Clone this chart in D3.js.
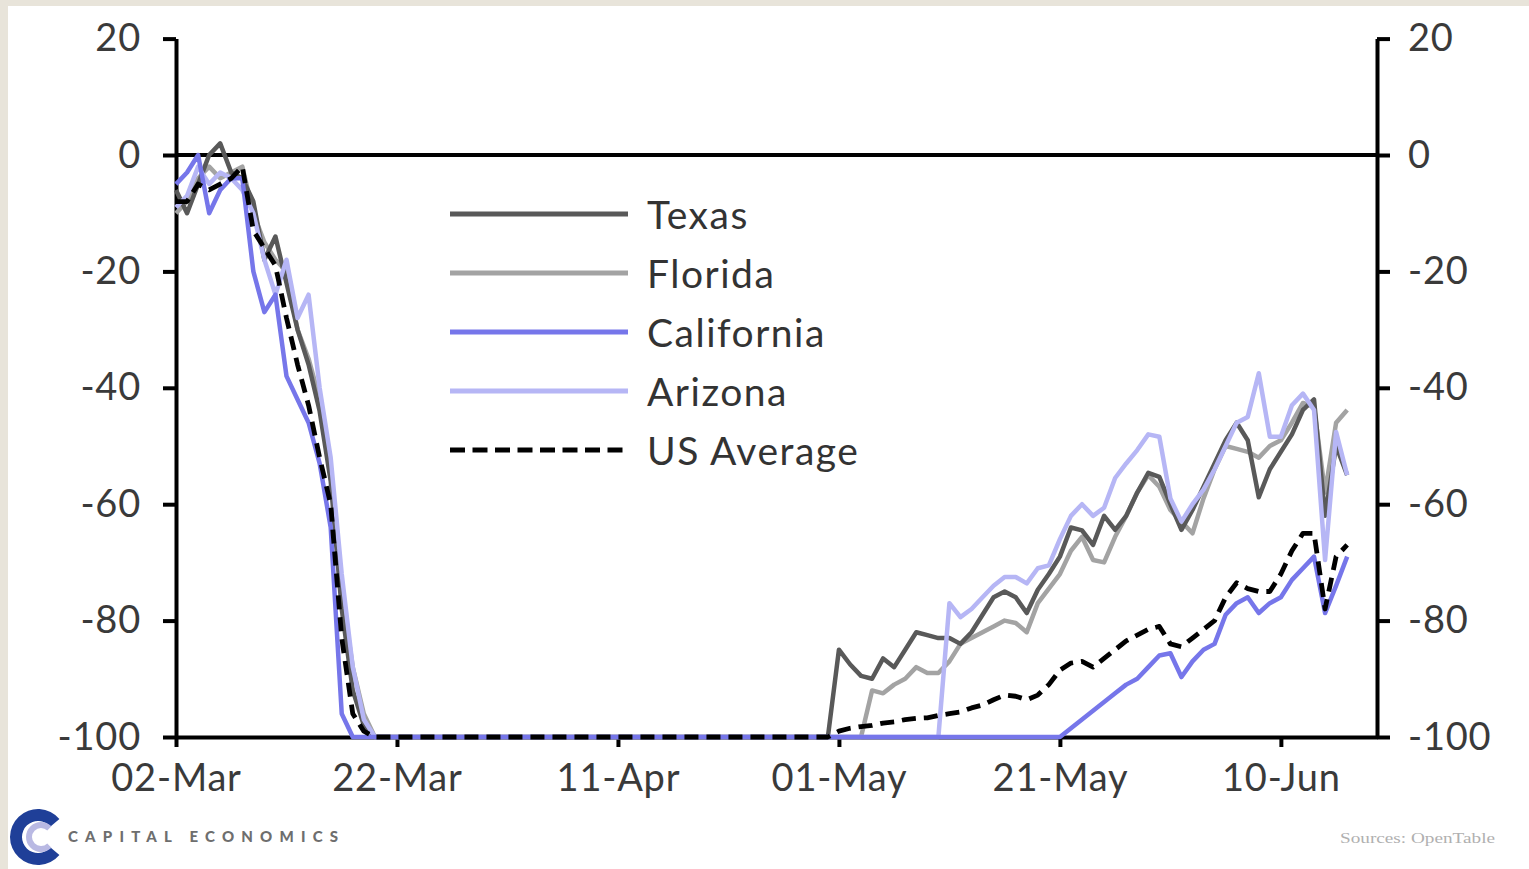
<!DOCTYPE html>
<html>
<head>
<meta charset="utf-8">
<script src="https://cdn.jsdelivr.net/npm/d3@7"></script>
<style>
  html, body { margin: 0; padding: 0; background: #ffffff; }
  svg { display: block; }
</style>
</head>
<body>
<svg id="chart" width="1529" height="869"></svg>
<script>
// ---------------- DATA ----------------
const startDate = Date.UTC(2020, 2, 2); // 02-Mar
const tickDays = [0, 20, 40, 60, 80, 100];
const tickLabels = ["02-Mar", "22-Mar", "11-Apr", "01-May", "21-May", "10-Jun"];
const yTicks = [20, 0, -20, -40, -60, -80, -100];
const seriesNames = ["Texas", "Florida", "California", "Arizona", "US Average"];

const texas = [
  -6,-10,-5,0,2,-3,-4,-8,-18,-14,
  -22,-30,-36,-44,-56,-78,-92,-98,-100,
  -100,-100,-100,-100,-100,-100,-100,-100,-100,-100,
  -100,-100,-100,-100,-100,-100,-100,-100,-100,-100,
  -100,-100,-100,-100,-100,-100,-100,-100,-100,-100,
  -100,-100,-100,-100,-100,-100,-100,-100,-100,-100,
  -100,
  -85,-87.5,-89.5,-90,-86.5,-88,-85,-82,-82.5,-83,
  -83,-84,-82,-79,-76,-75,-76,-78.7,-74.7,-72,
  -69,-64,-64.5,-67,-62,-64.4,-62,-58,-54.6,-55.3,
  -60,-64.4,-61,-57,-53,-49,-46,-49,-58.8,-54,
  -51,-48,-43.8,-42,-62,-50,-55
];
const florida = [
  -10,-8,-4,-2,-4,-3,-2,-10,-15,-18,
  -20,-30,-35,-42,-55,-75,-88,-96,-100,
  -100,-100,-100,-100,-100,-100,-100,-100,-100,-100,
  -100,-100,-100,-100,-100,-100,-100,-100,-100,-100,
  -100,-100,-100,-100,-100,-100,-100,-100,-100,-100,
  -100,-100,-100,-100,-100,-100,-100,-100,-100,-100,
  -100,-100,-100,-100,
  -92,-92.5,-91,-90,-88,-89,-89,-87,-84,-83,
  -82,-81,-80,-80.4,-82,-77,-74.5,-72,-68,-65.6,
  -69.6,-70,-65.6,-62,-58,-55,-57,-61,-63,-65,
  -59,-54,-50,-50.5,-51,-52,-50,-49,-46,-42.6,
  -43.3,-58,-46,-43.8
];
const california = [
  -5,-3,0,-10,-6,-4,-4,-20,-27,-24,
  -38,-42,-46,-53,-64,-96,
  -100,-100,-100,-100,-100,-100,-100,-100,-100,-100,
  -100,-100,-100,-100,-100,-100,-100,-100,-100,-100,
  -100,-100,-100,-100,-100,-100,-100,-100,-100,-100,
  -100,-100,-100,-100,-100,-100,-100,-100,-100,-100,
  -100,-100,-100,-100,-100,-100,-100,-100,-100,-100,
  -100,-100,-100,-100,-100,-100,-100,-100,-100,-100,
  -100,-100,-100,-100,-100,
  -98.5,-97,-95.5,-94,-92.5,-91,-90,-88,-86,-85.6,
  -89.7,-87,-85,-84,-79,-77,-76,-78.7,-77,-76,
  -73,-71,-69,-78.7,-74,-69
];
const arizona = [
  -9,-7,-2,-5,-3,-4,-6,-10,-18,-24,
  -18,-28,-24,-40,-52,-72,-88,-97,-100,
  -100,-100,-100,-100,-100,-100,-100,-100,-100,-100,
  -100,-100,-100,-100,-100,-100,-100,-100,-100,-100,
  -100,-100,-100,-100,-100,-100,-100,-100,-100,-100,
  -100,-100,-100,-100,-100,-100,-100,-100,-100,-100,
  -100,-100,-100,-100,-100,-100,-100,-100,-100,-100,
  -100,
  -77,-79.4,-78,-76,-74,-72.5,-72.5,-73.6,-71,-70.5,
  -66,-62,-60,-62,-60.6,-55.5,-53,-50.7,-48,-48.4,
  -59,-63,-60,-57.5,-54,-50,-46,-45,-37.5,-48.4,
  -48.4,-43,-41,-43.8,-69.6,-47.6,-55
];
const usAverage = [
  -8,-8,-5,-6,-5,-4,-2,-13,-16,-19,
  -28,-36,-43,-52,-60,-83,-96,-99,-100,
  -100,-100,-100,-100,-100,-100,-100,-100,-100,-100,
  -100,-100,-100,-100,-100,-100,-100,-100,-100,-100,
  -100,-100,-100,-100,-100,-100,-100,-100,-100,-100,
  -100,-100,-100,-100,-100,-100,-100,-100,-100,-100,
  -100,
  -99,-98.5,-98.2,-98,-97.6,-97.4,-97,-96.8,-96.7,-96.3,
  -96,-95.7,-95,-94.5,-93.6,-92.8,-93,-93.6,-92.8,-91,
  -88.5,-87.3,-87,-88,-86.5,-85,-83.5,-82.5,-81.5,-81,
  -84,-84.5,-83,-81.5,-80,-76,-73.5,-74.5,-75,-75,
  -72,-68,-65,-65,-78,-69,-67
];

// ---------------- STYLE ----------------
const colors = {
  "Texas": "#595959",
  "Florida": "#a3a3a3",
  "California": "#7676ea",
  "Arizona": "#b6b6f5",
  "US Average": "#000000"
};
const FONT = "Lato, 'Open Sans', sans-serif";
const DAY = 86400000;

const svg = d3.select("#chart");
const W = 1529, H = 869;

// background frame
svg.append("rect").attr("width", W).attr("height", H).attr("fill", "#e8e4da");
svg.append("rect").attr("x", 8).attr("y", 6).attr("width", W - 8).attr("height", H - 6).attr("fill", "#ffffff");

const x = d3.scaleUtc()
  .domain([new Date(startDate), new Date(startDate + 108.7 * DAY)])
  .range([176, 1377]);
const y = d3.scaleLinear().domain([-100, 20]).range([737, 38.6]);

const dateOf = i => new Date(startDate + i * DAY);

// axes
const axisStyle = g => {
  g.selectAll(".domain").attr("stroke", "#000").attr("stroke-width", 4);
  g.selectAll(".tick line").attr("stroke", "#000").attr("stroke-width", 4);
  g.selectAll(".tick text").attr("fill", "#3a3a3a").style("font-family", FONT)
    .style("font-size", "38px").style("letter-spacing", "0.8px");
};

svg.append("g").attr("transform", "translate(176,0)")
  .call(d3.axisLeft(y).tickValues(yTicks).tickSize(13).tickSizeOuter(0).tickPadding(22).tickFormat(d => String(d)))
  .call(axisStyle);

svg.append("g").attr("transform", "translate(1377,0)")
  .call(d3.axisRight(y).tickValues(yTicks).tickSize(13).tickSizeOuter(0).tickPadding(18).tickFormat(d => String(d)))
  .call(axisStyle);

svg.append("g").attr("transform", `translate(0,${y(-100)})`)
  .call(d3.axisBottom(x).tickValues(tickDays.map(dateOf)).tickSize(10).tickSizeOuter(0).tickPadding(17)
    .tickFormat((d, i) => tickLabels[i]))
  .call(axisStyle);

// zero line
svg.append("line")
  .attr("x1", x.range()[0]).attr("x2", x.range()[1])
  .attr("y1", y(0)).attr("y2", y(0))
  .attr("stroke", "#000").attr("stroke-width", 4);

// lines
const line = d3.line().x((d, i) => x(dateOf(i))).y(d => y(d)).curve(d3.curveLinear);
const drawOrder = [
  ["Florida", florida],
  ["Texas", texas],
  ["Arizona", arizona],
  ["California", california],
  ["US Average", usAverage]
];
drawOrder.forEach(([name, vals]) => {
  svg.append("path")
    .datum(vals)
    .attr("d", line)
    .attr("fill", "none")
    .attr("stroke", colors[name])
    .attr("stroke-width", name === "US Average" ? 4.8 : 4.5)
    .attr("stroke-linejoin", "round")
    .attr("stroke-dasharray", name === "US Average" ? "14,8" : null);
});

// legend
const legend = svg.append("g");
seriesNames.forEach((name, i) => {
  const ly = 214 + i * 59;
  legend.append("line")
    .attr("x1", 450).attr("x2", 628).attr("y1", ly).attr("y2", ly)
    .attr("stroke", colors[name])
    .attr("stroke-width", 4.8)
    .attr("stroke-dasharray", name === "US Average" ? "15,7.5" : null);
  legend.append("text")
    .attr("x", 647).attr("y", ly)
    .attr("dominant-baseline", "central")
    .attr("fill", "#333")
    .style("font-family", FONT).style("font-size", "39px").style("letter-spacing", "1.5px")
    .text(name);
});

// logo
const logo = svg.append("g").attr("transform", "translate(38,837)");
logo.append("path")
  .attr("d", d3.arc().innerRadius(16).outerRadius(28)
    .startAngle(Math.PI / 2 + 0.7).endAngle(Math.PI / 2 + 2 * Math.PI - 0.7)())
  .attr("fill", "#1f3f98");
logo.append("path")
  .attr("d", d3.arc().innerRadius(9).outerRadius(15)
    .startAngle(Math.PI / 2 + 0.8).endAngle(Math.PI / 2 + 2 * Math.PI - 0.8)())
  .attr("transform", "translate(3,0)")
  .attr("fill", "#b9b9e3");
svg.append("text")
  .attr("x", 68).attr("y", 842)
  .attr("fill", "#6e6e6e")
  .attr("textLength", 270).attr("lengthAdjust", "spacing")
  .style("font-family", FONT).style("font-size", "15px").style("font-weight", "900")
  .text("CAPITAL ECONOMICS");

// source
svg.append("text")
  .attr("x", 1340).attr("y", 843)
  .attr("fill", "#b0b0b0")
  .attr("textLength", 155).attr("lengthAdjust", "spacingAndGlyphs")
  .style("font-family", "'Liberation Serif', 'DejaVu Serif', serif").style("font-size", "15px")
  .text("Sources: OpenTable");
</script>
</body>
</html>
